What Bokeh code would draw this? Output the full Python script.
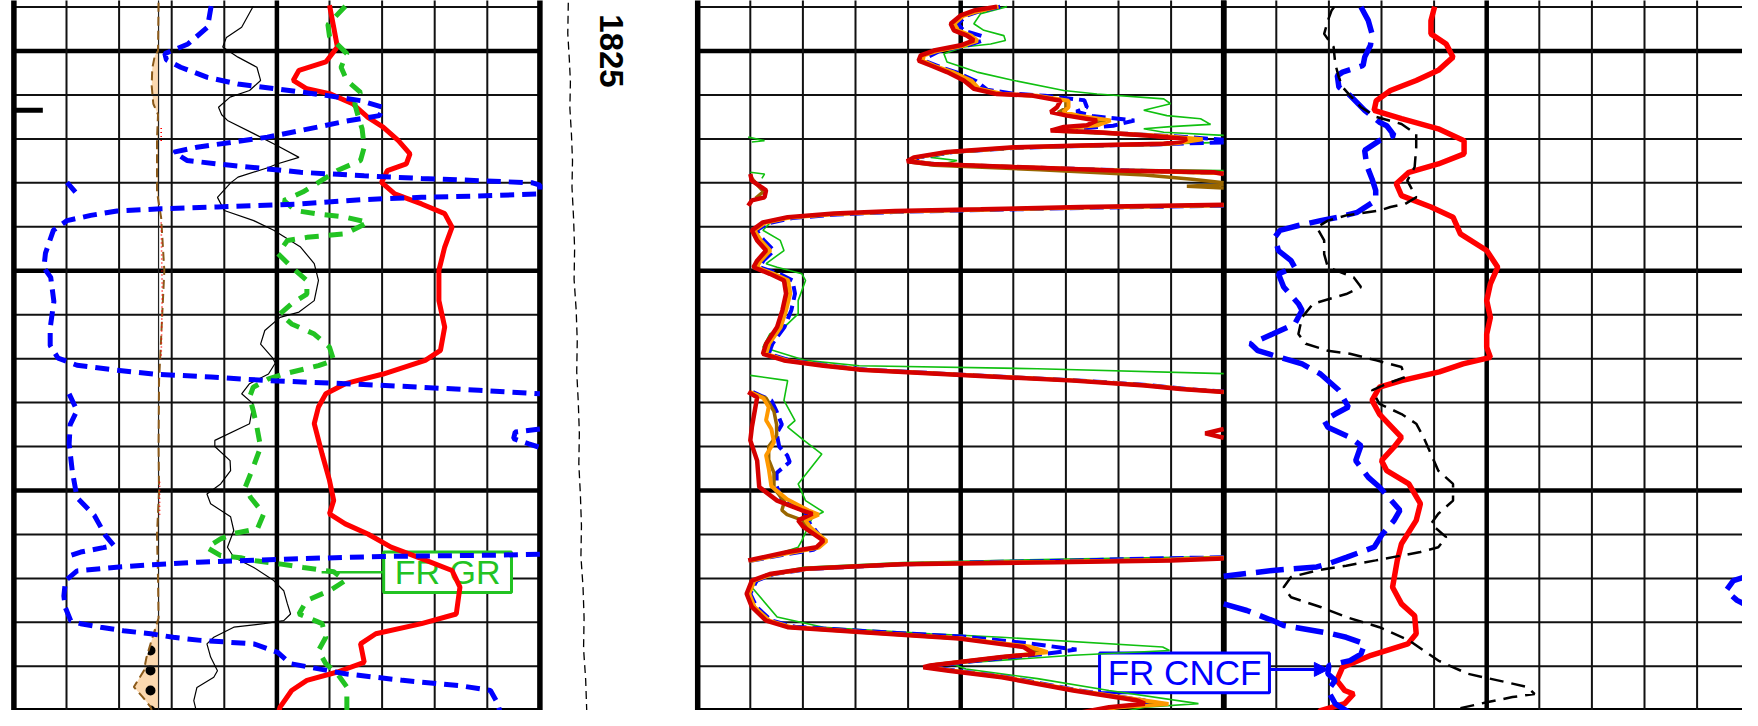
import numpy as np
from bokeh.plotting import figure
from bokeh.models import Range1d, Arrow, NormalHead
from bokeh.embed import file_html
from bokeh.resources import INLINE
from bokeh.core.properties import value

# ---------------- layout constants ----------------
PX_PER_DIV = 52.6      # one grid division (track units)
X0_PX = 13.4           # left edge of track 1 in pixels
PX_PER_M = 43.95       # one metre of depth
Y1825_PX = 50.5        # y of the 1825 depth line
W, H = 1742, 710

TRACK1, TRACK2, TRACK3 = 0.0, 13.0, 23.0   # left edge of each 10-division track
DEPTH_LABEL_X = 11.36

# ---------------- data (depth, track value in divisions) ----------------
depth_labels = [1825]

# Track 1
t1_red = [(1823.96,6.00),(1824.46,6.08),(1824.91,6.15),(1825.25,5.93),(1825.44,5.42),(1825.67,5.31),(1825.86,5.57),
          (1825.97,6.00),(1826.20,6.44),(1826.51,6.73),(1826.73,7.02),(1827.04,7.31),(1827.34,7.53),(1827.57,7.46),
          (1827.72,7.10),(1827.99,6.99),(1828.25,7.24),(1828.48,7.75),(1828.70,8.19),(1829.01,8.33),(1829.46,8.19),
          (1829.99,8.08),(1830.68,8.08),(1831.28,8.19),(1831.81,8.11),(1832.04,7.82),(1832.35,7.02),(1832.57,6.30),
          (1832.80,5.93),(1833.10,5.79),(1833.48,5.71),(1834.17,5.86),(1834.77,6.00),(1835.23,6.08),(1835.53,6.00),
          (1835.76,6.30),(1835.99,6.73),(1836.29,7.17),(1836.55,7.75),(1836.82,8.33),(1837.20,8.48),(1837.81,8.41),
          (1838.03,7.75),(1838.26,6.88),(1838.49,6.59),(1838.91,6.66),(1839.13,6.15),(1839.32,5.57),(1839.55,5.28),
          (1839.93,5.06),(1840.23,4.99),(1840.38,5.13)]

t1_gr = [(1823.98,6.30),(1824.40,5.97),(1824.67,6.00),(1825.06,6.33),(1825.37,6.22),(1825.67,6.33),(1825.94,6.59),
         (1826.20,6.48),(1826.51,6.55),(1826.77,6.62),(1827.19,6.66),(1827.49,6.59),(1827.72,6.15),(1827.99,5.79),
         (1828.21,5.49),(1828.40,5.13),(1828.63,5.35),(1828.71,5.79),(1828.78,6.30),(1828.90,6.73),(1829.16,6.30),
         (1829.24,5.57),(1829.31,5.20),(1829.61,5.02),(1829.92,5.28),(1830.22,5.57),(1830.53,5.57),(1830.75,5.28),
         (1830.98,5.06),(1831.21,5.28),(1831.44,5.71),(1831.74,6.00),(1832.04,6.08),(1832.16,5.79),(1832.35,5.13),
         (1832.46,4.84),(1832.65,4.55),(1832.88,4.48),(1833.18,4.55),(1833.56,4.62),(1834.01,4.69),(1834.47,4.55),
         (1834.92,4.40),(1835.16,4.50),(1835.53,4.75),(1835.87,4.63),(1835.98,4.18),(1836.10,3.93),(1836.30,3.67),
         (1836.48,3.93),(1836.53,4.31),(1836.60,4.60),(1836.67,5.05),(1836.75,5.50),(1836.85,6.08),(1837.05,6.30),
         (1837.28,6.00),(1837.50,5.57),(1837.81,5.42),(1838.03,5.86),(1838.34,5.93),(1838.64,5.79),(1838.94,5.93),
         (1839.17,6.15),(1839.47,6.33),(1839.85,6.33),(1840.23,6.33)]

t1_blue = [(1823.98,3.75),(1824.46,3.68),(1824.84,3.31),(1825.06,2.87),(1825.20,2.90),(1825.37,3.17),(1825.60,3.68),
           (1825.75,4.26),(1825.86,4.99),(1826.01,5.93),(1826.13,6.59),(1826.28,7.02),(1826.47,6.95),(1826.60,6.30),
           (1826.81,5.45),(1826.96,4.82),(1827.07,4.18),(1827.19,3.48),(1827.30,3.04),(1827.49,3.29),(1827.57,3.87),
           (1827.72,5.13),(1827.76,5.45),(1827.84,6.66),(1827.90,7.75),(1827.95,8.84),(1828.00,9.86),(1828.05,10.0),
           (1828.25,10.0),(1828.30,8.84),(1828.33,7.75),(1828.38,6.66),(1828.48,5.45),(1828.55,3.87),(1828.59,2.79),
           (1828.64,1.96),(1828.74,1.46),(1828.86,1.01),(1829.08,0.75),(1829.60,0.60),(1829.93,0.57),(1830.15,0.70),
           (1830.70,0.76),(1831.30,0.69),(1831.70,0.69),(1831.99,0.84),(1832.15,1.20),(1832.26,1.93),(1832.35,2.66),
           (1832.42,3.75),(1832.50,4.84),(1832.57,6.30),(1832.65,7.75),(1832.72,8.84),(1832.80,10.0), None,
           (1827.99,1.01),(1828.21,1.17), None,
           (1832.80,1.05),(1833.18,1.20),(1833.50,1.07),(1833.94,1.05),(1834.56,1.11),(1835.16,1.20),(1835.57,1.53),
           (1836.02,1.74),(1836.25,1.90),(1836.30,1.70),(1836.40,1.27),(1836.50,1.02), None,
           (1833.60,10.0),(1833.67,9.53),(1833.82,9.50),(1833.94,9.79),(1834.02,10.0), None,
           (1836.45,10.0),(1836.47,9.20),(1836.50,7.00),(1836.55,5.45),(1836.63,3.50),(1836.69,2.60),(1836.74,2.00),
           (1836.83,1.20),(1837.05,0.98),(1837.40,0.95),(1837.67,0.98),(1837.96,1.08),(1838.03,1.27),(1838.11,1.65),
           (1838.19,2.08),(1838.26,2.60),(1838.34,3.03),(1838.41,3.55),(1838.45,4.06),(1838.49,4.56),(1838.68,5.01),
           (1838.94,5.26),(1839.17,6.30),(1839.32,7.39),(1839.44,8.48),(1839.55,9.06),(1839.85,9.20),(1840.23,9.28)]

t1_black = [(1823.98,4.55),(1824.46,4.33),(1824.69,4.04),(1824.91,3.97),(1825.14,4.26),(1825.37,4.62),(1825.67,4.69),
            (1825.90,4.48),(1826.05,4.11),(1826.28,3.89),(1826.45,3.95),(1826.58,4.06),(1826.88,4.56),(1827.15,5.00),
            (1827.42,5.42),(1827.57,5.00),(1827.65,4.84),(1827.87,4.26),(1828.00,4.12),(1828.33,3.87),(1828.63,4.00),
            (1828.86,4.56),(1829.08,4.94),(1829.46,5.45),(1829.84,5.71),(1830.22,5.79),(1830.68,5.71),(1830.94,5.42),
            (1831.06,5.06),(1831.36,4.77),(1831.67,4.69),(1831.97,4.91),(1832.10,4.97),(1832.35,4.84),(1832.57,4.48),
            (1832.80,4.33),(1833.03,4.55),(1833.48,4.48),(1833.86,3.82),(1834.00,3.82),(1834.32,4.11),(1834.55,4.12),
            (1834.85,3.93),(1835.08,3.67),(1835.30,3.74),(1835.60,4.12),(1835.91,4.18),(1836.29,4.06),(1836.52,4.18),
            (1836.75,4.56),(1837.05,4.94),(1837.28,5.13),(1837.58,5.20),(1837.81,5.26),(1837.96,5.13),(1838.03,4.75),
            (1838.11,4.18),(1838.34,3.80),(1838.49,3.67),(1838.79,3.74),(1839.10,3.87),(1839.25,3.80),(1839.48,3.48),
            (1839.78,3.42),(1840.08,3.48),(1840.31,3.60)]

sp_baseline = 2.75
t1_sp = [(1823.9,2.75),(1825.00,2.74),(1825.10,2.68),(1825.40,2.63),(1825.80,2.62),(1826.20,2.65),(1826.45,2.74),
         (1827.00,2.72),(1828.20,2.72),(1828.80,2.80),(1830.00,2.86),(1831.50,2.80),(1832.50,2.76),(1834.00,2.75),
         (1835.00,2.76),(1836.00,2.72),(1837.00,2.74),(1837.90,2.75),(1838.40,2.62),(1838.80,2.52),(1839.10,2.47),
         (1839.47,2.28),(1839.70,2.45),(1839.93,2.60),(1840.25,2.69),(1840.40,2.72)]
sp_dotted_from = 1837.0   # the lower SP deflection carries the dotted (sand) pattern
t1_sp_red = [(1826.75,2.80),(1827.05,2.80), None, (1828.90,2.80),(1830.50,2.82),(1832.00,2.80), None,
             (1834.80,2.77),(1835.60,2.77)]
depth_marker = [(1826.35,0.0),(1826.35,0.55)]

# Depth column curve
t_depthcol = [(1823.9,10.54),(1824.6,10.53),(1825.2,10.56),(1825.7,10.58),(1826.3,10.57),(1826.9,10.60),(1827.5,10.62),
              (1828.1,10.61),(1828.8,10.64),(1829.5,10.66),(1830.2,10.65),(1830.9,10.69),(1831.6,10.71),(1832.3,10.70),
              (1833.0,10.73),(1833.7,10.75),(1834.4,10.74),(1835.1,10.77),(1835.8,10.79),(1836.5,10.78),(1837.2,10.82),
              (1837.9,10.84),(1838.6,10.83),(1839.3,10.87),(1840.0,10.89),(1840.4,10.90)]

# Track 2 (resistivity-type curves)
t2_red = [(1823.99,5.69),(1824.08,5.25),(1824.19,5.00),(1824.38,4.81),(1824.53,4.87),(1824.65,5.12),(1824.76,5.25),
          (1824.87,5.00),(1824.99,4.49),(1825.10,4.24),(1825.22,4.20),(1825.33,4.43),(1825.48,4.74),(1825.67,5.06),
          (1825.86,5.25),(1825.98,5.69),(1826.01,6.33),(1826.13,6.90),(1826.28,6.83),(1826.39,6.71),(1826.47,7.02),
          (1826.58,7.59),(1826.69,7.40),(1826.73,6.96),(1826.81,6.71),(1826.85,7.59),(1826.92,8.55),(1827.00,9.30),
          (1827.06,9.20),(1827.11,8.86),(1827.15,7.28),(1827.19,6.01),(1827.30,4.74),(1827.42,4.11),(1827.51,3.98),
          (1827.57,4.43),(1827.64,6.01),(1827.72,7.91),(1827.76,9.81),(1827.80,10.0), None,
          (1827.80,1.00),(1827.95,1.03),(1828.17,1.30),(1828.33,1.27),(1828.40,1.03),(1828.52,0.96), None,
          (1828.50,10.0),(1828.55,7.28),(1828.60,5.38),(1828.64,3.75),(1828.70,2.59),(1828.78,1.71),(1828.90,1.24),
          (1829.08,1.03),(1829.31,1.13),(1829.54,1.30),(1829.77,1.13),(1829.92,1.06),(1830.07,1.37),(1830.22,1.64),
          (1830.52,1.68),(1830.90,1.61),(1831.28,1.51),(1831.66,1.30),(1831.89,1.24),(1832.04,1.64),(1832.16,2.39),
          (1832.25,3.07),(1832.38,5.10),(1832.50,7.14),(1832.61,8.50),(1832.69,9.18),(1832.76,10.0), None,
          (1832.76,0.96),(1832.88,1.13),(1833.56,1.03),(1833.86,1.00),(1834.32,1.13),(1834.92,1.17),(1835.23,1.51),
          (1835.45,1.98),(1835.53,2.18),(1835.68,1.91),(1835.83,2.01),(1836.14,2.39),(1836.29,2.26),(1836.40,1.71),
          (1836.59,0.96), None,
          (1833.60,10.0),(1833.70,9.65),(1833.80,10.0), None,
          (1836.55,10.0),(1836.59,9.00),(1836.63,6.80),(1836.68,3.88),(1836.78,2.05),(1836.90,1.37),(1837.05,1.03),
          (1837.35,0.93),(1837.65,1.03),(1837.96,1.30),(1838.11,1.71),(1838.22,3.07),(1838.37,4.97),(1838.56,6.19),
          (1838.72,6.40),(1838.79,5.78),(1838.98,4.42),(1839.02,4.29),(1839.10,4.77),(1839.25,5.78),(1839.55,7.14),
          (1839.78,8.36),(1839.85,8.50),(1839.93,7.82),(1840.16,6.80),(1840.31,6.33),(1840.40,6.10)]

t2_green = [(1823.99,5.88),(1824.15,5.38),(1824.38,5.25),(1824.53,5.44),(1824.65,5.82),(1824.76,5.85),(1824.84,5.57),
            (1824.91,5.06),(1825.06,4.68),(1825.25,4.74),(1825.48,5.31),(1825.67,6.01),(1825.90,6.96),(1825.98,7.59),
            (1826.09,8.86),(1826.20,8.99),(1826.35,8.48),(1826.47,8.92),(1826.54,9.56),(1826.67,9.75),(1826.72,8.99),
            (1826.77,8.48),(1826.85,8.86),(1826.92,10.0), None,
            (1827.08,10.0),(1827.12,8.60),(1827.16,7.30),(1827.21,6.05),(1827.31,4.85),(1827.42,4.43),(1827.49,4.93),
            (1827.56,4.70),(1827.63,6.10),(1827.69,8.00),(1827.72,10.0), None,
            (1826.96,0.96),(1827.04,1.27),(1827.07,1.03), None,
            (1827.76,1.00),(1827.80,1.27),(1827.90,1.22), None,
            (1828.48,10.0),(1828.53,7.50),(1828.58,5.50),(1828.63,3.90),(1828.69,2.70),(1828.77,1.80),(1828.88,1.40),
            (1829.08,1.24),(1829.31,1.57),(1829.54,1.64),(1829.84,1.30),(1829.92,1.51),(1830.07,1.98),(1830.22,2.05),
            (1830.68,1.91),(1830.98,1.91),(1831.21,1.71),(1831.44,1.37),(1831.74,1.24),(1832.04,2.05),(1832.16,3.07),
            (1832.23,6.46),(1832.34,10.0), None,
            (1832.38,1.00),(1832.50,1.71),(1832.95,1.64),(1833.41,1.85),(1833.56,1.71),(1833.86,2.02),(1834.17,2.36),
            (1834.85,1.91),(1835.23,2.05),(1835.49,2.39),(1835.61,2.18),(1836.14,1.98),(1836.29,1.91),(1836.45,1.50),
            (1836.58,1.00), None,
            (1836.50,10.0),(1836.56,7.00),(1836.64,3.90),(1836.75,2.00),(1836.90,1.30),(1837.20,1.03),(1837.88,1.51),
            (1838.11,2.39),(1838.26,4.42),(1838.34,5.78),(1838.56,8.84),(1838.64,8.97),(1838.75,7.14),(1838.94,4.83),
            (1839.06,5.10),(1839.28,6.46),(1839.55,7.82),(1839.85,9.52),(1839.93,8.50),(1840.19,7.48),(1840.35,7.14),
            (1840.40,7.00)]

t2_blue = [(1823.99,5.75),(1824.10,5.35),(1824.20,5.10),(1824.38,4.95),(1824.53,5.05),(1824.66,5.40),(1824.77,5.40),
           (1824.88,5.10),(1825.00,4.60),(1825.12,4.40),(1825.24,4.35),(1825.36,4.60),(1825.50,4.95),(1825.69,5.30),
           (1825.88,5.50),(1825.97,6.00),(1826.02,6.60),(1826.12,7.35),(1826.28,7.40),(1826.38,7.20),(1826.48,7.50),
           (1826.58,8.30),(1826.70,7.90),(1826.76,7.30),(1826.83,7.20),(1826.88,8.10),(1826.95,9.20),(1827.02,10.0), None,
           (1827.08,10.0),(1827.12,8.80),(1827.16,7.30),(1827.20,6.10),(1827.30,4.85),(1827.42,4.20),(1827.52,4.10),
           (1827.58,4.60),(1827.65,6.30),(1827.72,8.20),(1827.78,10.0), None,
           (1828.52,10.0),(1828.57,7.30),(1828.62,5.40),(1828.66,3.80),(1828.72,2.65),(1828.80,1.80),(1828.92,1.33),
           (1829.08,1.12),(1829.30,1.25),(1829.54,1.45),(1829.77,1.25),(1829.92,1.18),(1830.07,1.55),(1830.22,1.80),
           (1830.52,1.85),(1830.90,1.78),(1831.28,1.65),(1831.66,1.42),(1831.89,1.35),(1832.04,1.75),(1832.16,2.50),
           (1832.25,3.20),(1832.38,5.25),(1832.50,7.30),(1832.61,8.65),(1832.69,9.30),(1832.75,10.0), None,
           (1832.76,1.05),(1832.95,1.40),(1833.20,1.50),(1833.50,1.60),(1833.70,1.50),(1834.00,1.55),(1834.20,1.70),
           (1834.35,1.75),(1834.60,1.50),(1834.90,1.50),(1835.20,1.60),(1835.50,2.05),(1835.70,2.10),(1836.00,2.30),
           (1836.20,2.40),(1836.35,2.20),(1836.45,1.70),(1836.60,1.00), None,
           (1836.52,10.0),(1836.55,8.50),(1836.60,7.00),(1836.63,5.50),(1836.68,3.90),(1836.79,2.10),(1836.90,1.45),
           (1837.05,1.12),(1837.35,1.00),(1837.65,1.12),(1837.96,1.40),(1838.10,1.85),(1838.20,3.20),(1838.33,5.10),
           (1838.48,6.30),(1838.62,7.20),(1838.72,6.60),(1838.80,5.90),(1838.97,4.60),(1839.02,4.45),(1839.10,4.90),
           (1839.25,5.90),(1839.55,7.25),(1839.78,8.50),(1839.85,8.70),(1839.93,7.90),(1840.16,6.90),(1840.31,6.40),
           (1840.40,6.20)]

t2_orange = [(1823.99,5.72),(1824.10,5.30),(1824.20,5.05),(1824.38,4.88),(1824.53,4.95),(1824.65,5.20),(1824.77,5.32),
             (1824.88,5.05),(1825.00,4.55),(1825.10,4.30),(1825.22,4.28),(1825.34,4.50),(1825.48,4.85),(1825.67,5.20),
             (1825.86,5.35),(1825.98,5.80),(1826.02,6.45),(1826.13,7.05),(1826.28,7.05),(1826.39,6.95),(1826.47,7.25),
             (1826.58,7.85),(1826.69,7.60),(1826.74,7.10),(1826.81,6.90),(1826.86,7.80),(1826.93,8.80),(1827.01,9.60),
             (1827.10,9.10),(1827.15,7.40),(1827.19,6.10),(1827.30,4.80),(1827.42,4.15),(1827.51,4.05),(1827.57,4.50),
             (1827.64,6.10),(1827.72,8.00),(1827.78,10.0), None,
             (1828.51,10.0),(1828.56,7.30),(1828.61,5.40),(1828.65,3.78),(1828.71,2.62),(1828.79,1.75),(1828.91,1.28),
             (1829.08,1.08),(1829.31,1.20),(1829.54,1.38),(1829.77,1.20),(1829.92,1.12),(1830.07,1.45),(1830.22,1.72),
             (1830.52,1.76),(1830.90,1.68),(1831.28,1.58),(1831.66,1.36),(1831.89,1.30),(1832.04,1.70),(1832.16,2.45),
             (1832.25,3.13),(1832.38,5.18),(1832.50,7.22),(1832.61,8.58),(1832.69,9.24),(1832.76,10.0), None,
             (1832.76,1.00),(1832.90,1.25),(1833.10,1.35),(1833.40,1.30),(1833.60,1.40),(1833.90,1.45),(1834.20,1.30),
             (1834.50,1.35),(1834.90,1.40),(1835.20,1.70),(1835.45,2.10),(1835.55,2.30),(1835.68,2.05),(1835.85,2.15),
             (1836.15,2.45),(1836.30,2.30),(1836.42,1.75),(1836.60,1.00), None,
             (1836.53,10.0),(1836.58,8.80),(1836.62,6.90),(1836.67,3.95),(1836.78,2.10),(1836.90,1.42),(1837.05,1.08),
             (1837.35,0.98),(1837.65,1.08),(1837.96,1.36),(1838.11,1.78),(1838.22,3.13),(1838.37,5.05),(1838.55,6.30),
             (1838.68,6.65),(1838.76,6.00),(1838.97,4.50),(1839.02,4.36),(1839.10,4.85),(1839.25,5.85),(1839.55,7.20),
             (1839.78,8.50),(1839.86,8.95),(1839.93,8.00),(1840.16,6.88),(1840.31,6.40),(1840.40,6.20)]

t2_brown = [(1823.99,5.70),(1824.20,5.02),(1824.38,4.85),(1824.53,4.92),(1824.65,5.18),(1824.76,5.30),(1824.87,5.03),
            (1825.00,4.52),(1825.10,4.27),(1825.22,4.24),(1825.33,4.47),(1825.48,4.80),(1825.67,5.15),(1825.86,5.32),
            (1825.98,5.75),(1826.02,6.40),(1826.13,7.00),(1826.30,7.00),(1826.40,6.85),(1826.48,7.15),(1826.60,7.75),
            (1826.70,7.50),(1826.76,7.00),(1826.82,6.80),(1826.87,7.70),(1826.94,8.70),(1827.02,9.45),(1827.12,8.95),
            (1827.16,7.35),(1827.20,6.05),(1827.31,4.78),(1827.43,4.13),(1827.52,4.00),(1827.60,4.50),(1827.70,6.50),
            (1827.82,8.50),(1827.92,9.40),(1828.00,10.0), None,
            (1828.04,10.0),(1828.08,9.30),(1828.12,10.0), None,
            (1827.85,1.00),(1828.00,1.10),(1828.20,1.25),(1828.35,1.10), None,
            (1828.51,10.0),(1828.56,7.29),(1828.61,5.39),(1828.65,3.77),(1828.71,2.61),(1828.79,1.73),(1828.91,1.26),
            (1829.08,1.06),(1829.31,1.17),(1829.54,1.34),(1829.77,1.17),(1829.92,1.10),(1830.07,1.41),(1830.22,1.68),
            (1830.52,1.72),(1830.90,1.65),(1831.28,1.55),(1831.66,1.33),(1831.89,1.27),(1832.04,1.67),(1832.16,2.42),
            (1832.25,3.10),(1832.38,5.14),(1832.50,7.18),(1832.61,8.54),(1832.69,9.21),(1832.76,10.0), None,
            (1832.76,1.00),(1832.90,1.30),(1833.20,1.45),(1833.50,1.50),(1833.75,1.50),(1834.00,1.35),(1834.30,1.35),
            (1834.60,1.45),(1834.95,1.45),(1835.25,1.65),(1835.45,1.60),(1835.55,1.70),(1835.68,2.00),(1835.85,2.10),
            (1836.15,2.42),(1836.30,2.28),(1836.42,1.72),(1836.60,0.98), None,
            (1836.54,10.0),(1836.58,8.70),(1836.62,6.85),(1836.67,3.92),(1836.78,2.08),(1836.90,1.40),(1837.05,1.06),
            (1837.35,0.96),(1837.65,1.06),(1837.96,1.33),(1838.11,1.75),(1838.22,3.10),(1838.37,5.00),(1838.55,6.25),
            (1838.70,6.50),(1838.77,5.90),(1838.97,4.46),(1839.02,4.33),(1839.10,4.80),(1839.25,5.82),(1839.55,7.17),
            (1839.78,8.45),(1839.86,8.75),(1839.93,7.90),(1840.16,6.84),(1840.31,6.37),(1840.40,6.15)]

# Track 3
t3_red = [(1823.99,4.01),(1824.31,3.94),(1824.61,3.94),(1824.84,4.23),(1825.14,4.36),(1825.44,4.08),(1825.67,3.66),
          (1825.90,3.17),(1826.13,2.90),(1826.35,2.86),(1826.54,3.38),(1826.77,4.08),(1827.04,4.57),(1827.34,4.57),
          (1827.57,4.08),(1827.76,3.52),(1828.02,3.28),(1828.29,3.38),(1828.55,3.94),(1828.78,4.36),(1829.16,4.50),
          (1829.54,5.00),(1829.92,5.21),(1830.30,5.07),(1830.68,5.00),(1831.06,5.07),(1831.44,5.00),(1831.74,5.00),
          (1831.97,5.07),(1832.12,4.55),(1832.30,4.10),(1832.50,3.38),(1832.65,2.96),(1832.95,2.82),(1833.26,2.96),
          (1833.79,3.38),(1834.01,3.24),(1834.32,3.00),(1834.55,3.10),(1834.85,3.52),(1835.30,3.74),(1835.68,3.66),
          (1836.21,3.38),(1836.59,3.30),(1837.20,3.21),(1837.58,3.38),(1837.85,3.63),(1838.26,3.66),(1838.49,3.50),
          (1838.75,2.80),(1839.02,2.26),(1839.32,2.15),(1839.55,2.30),(1839.63,2.47),(1839.85,2.30),(1840.01,1.84),
          (1840.20,1.70),(1840.31,1.98),(1840.40,2.10)]

t3_cncf = [(1824.00,2.61),(1824.31,2.75),(1824.61,2.82),(1824.87,2.79),(1825.14,2.68),(1825.33,2.65),(1825.48,2.26),
           (1825.56,2.16),(1825.82,2.19),(1826.01,2.40),(1826.35,2.68),(1826.62,2.96),(1826.70,3.10),(1826.92,3.24),
           (1827.04,2.96),(1827.26,2.68),(1827.61,2.72),(1827.91,2.82),(1828.17,2.89),(1828.40,2.89),(1828.67,2.54),
           (1828.78,2.19),(1828.86,1.84),(1828.97,1.42),(1829.08,1.07),(1829.24,0.97),(1829.54,1.04),(1829.77,1.28),
           (1829.92,1.35),(1830.07,1.04),(1830.37,1.14),(1830.75,1.42),(1830.90,1.49),(1831.21,1.35),(1831.44,0.93),
           (1831.66,0.51),(1831.82,0.65),(1831.97,1.07),(1832.12,1.49),(1832.35,1.84),(1832.72,2.19),(1833.10,2.37),
           (1833.26,2.12),(1833.41,1.91),(1833.56,1.98),(1833.79,2.40),(1833.98,2.61),(1834.32,2.51),(1834.70,2.75),
           (1834.92,2.96),(1835.11,3.10),(1835.45,3.35),(1835.68,3.24),(1836.02,3.00),(1836.29,2.86),(1836.52,2.33),
           (1836.67,1.98),(1836.74,1.77),(1836.82,0.93),(1836.95,0.00), None,
           (1836.93,10.0),(1837.05,9.69),(1837.28,9.55),(1837.50,9.76),(1837.65,10.0), None,
           (1837.58,0.00),(1837.73,0.44),(1837.96,0.93),(1838.07,1.14),(1838.26,2.05),(1838.34,2.33),(1838.49,2.68),
           (1838.72,2.61),(1838.87,2.40),(1838.98,2.00),(1839.17,1.98),(1839.32,2.12),(1839.55,1.98),(1839.85,2.12),
           (1840.01,2.33),(1840.23,2.68),(1840.40,2.76)]

t3_black = [(1824.00,2.10),(1824.08,2.05),(1824.31,1.98),(1824.61,1.91),(1824.91,2.09),(1825.29,2.12),(1825.60,2.19),
            (1825.82,2.26),(1826.01,2.40),(1826.28,2.61),(1826.50,2.90),(1826.66,3.38),(1826.89,3.66),(1827.19,3.66),
            (1827.64,3.63),(1827.95,3.49),(1828.33,3.66),(1828.48,3.45),(1828.55,3.17),(1828.63,2.96),(1828.74,2.33),
            (1828.86,1.98),(1829.01,1.77),(1829.31,1.91),(1829.62,1.91),(1829.92,1.98),(1830.15,2.47),(1830.37,2.61),
            (1830.53,2.33),(1830.75,1.70),(1831.06,1.49),(1831.44,1.42),(1831.66,1.56),(1831.82,1.98),(1831.89,2.40),
            (1832.04,2.90),(1832.19,3.38),(1832.42,3.45),(1832.57,3.10),(1832.72,2.82),(1833.03,2.96),(1833.26,3.38),
            (1833.48,3.66),(1833.79,3.80),(1834.17,3.94),(1834.55,4.08),(1834.85,4.36),(1835.23,4.36),(1835.53,4.08),
            (1835.76,3.94),(1836.06,4.23),(1836.29,4.08),(1836.40,3.74),(1836.48,3.38),(1836.59,2.89),(1836.71,2.33),
            (1836.82,1.77),(1836.97,1.28),(1837.20,1.14),(1837.43,1.28),(1837.65,1.84),(1837.88,2.33),(1838.11,2.96),
            (1838.41,3.52),(1838.87,4.08),(1839.17,4.64),(1839.32,5.21),(1839.47,5.77),(1839.63,5.91),(1839.70,5.49),
            (1839.82,5.00),(1839.97,4.43),(1840.08,3.94),(1840.23,3.52),(1840.40,3.20)]

# crossover fill at the bottom of track 3: depth, left edge, right edge
t3_fill_depth = [1840.05, 1840.15, 1840.25, 1840.40]
t3_fill_left = [2.00, 1.72, 1.75, 2.00]
t3_fill_right = [2.30, 2.55, 2.70, 2.76]

# label boxes: (text, left, right, top depth, bottom depth, font size)
label_gr = ("FR GR", 7.03, 9.46, 1836.40, 1837.32, "34px")
label_cncf = ("FR CNCF", 20.64, 23.87, 1838.70, 1839.60, "35px")
gr_leader = [(1836.86, 5.85), (1836.86, 7.03)]
cncf_arrow = [(1839.07, 23.87), (1839.07, 24.99)]

# ---------------- colours ----------------
RED = "#FF0000"
DARK_RED = "#D40000"
BLUE = "#0000FF"
GREEN = "#22C322"
GREEN_THIN = "#10C010"
ORANGE = "#FF9900"
BROWN = "#996600"
PEACH = "#FCD9B0"


def xy(pairs, offset):
    xs, ys = [], []
    for pr in pairs:
        if pr is None:
            xs.append(np.nan)
            ys.append(np.nan)
        else:
            ys.append(pr[0])
            xs.append(offset + pr[1])
    return np.array(xs, dtype=float), np.array(ys, dtype=float)


x_start = (0 - X0_PX) / PX_PER_DIV
x_end = (W - X0_PX) / PX_PER_DIV
d_top = 1825 + (0 - Y1825_PX) / PX_PER_M
d_bot = 1825 + (H - Y1825_PX) / PX_PER_M

p = figure(width=W, height=H, x_range=Range1d(x_start, x_end), y_range=Range1d(d_bot, d_top),
           output_backend="svg", toolbar_location=None, min_border=0,
           x_axis_location=None, y_axis_location=None)
p.grid.visible = False
p.outline_line_color = None
p.background_fill_color = "white"
p.border_fill_color = "white"

# ---- SP fills (under grid) ----
sp_x, sp_d = xy(t1_sp, TRACK1)
sp_left = np.minimum(sp_x, TRACK1 + sp_baseline)
base = np.full(len(sp_x), TRACK1 + sp_baseline)
upper = sp_d < sp_dotted_from
p.harea(x1=sp_left[upper], x2=base[upper], y=sp_d[upper], fill_color=PEACH)
lower = ~upper
p.harea(x1=sp_left[lower], x2=base[lower], y=sp_d[lower],
        fill_color=PEACH, hatch_pattern="dot", hatch_color="black", hatch_scale=20, hatch_weight=1.8)

# ---- track 3 crossover fill ----
p.harea(x1=TRACK3 + np.array(t3_fill_left), x2=TRACK3 + np.array(t3_fill_right), y=t3_fill_depth,
        fill_color="#FFFF00", hatch_pattern="+", hatch_color="#FF6600", hatch_scale=7, hatch_weight=1)

# ---- grid ----
d_lo, d_hi = 1823.0, 1842.0
for t in (TRACK1, TRACK2, TRACK3):
    hd = list(range(1824, 1842))
    thin = [d for d in hd if d % 5]
    thick = [d for d in hd if d % 5 == 0]
    p.segment(x0=[t] * len(thin), x1=[t + 10] * len(thin), y0=thin, y1=thin, line_color="#111111", line_width=2)
    p.segment(x0=[t] * len(thick), x1=[t + 10] * len(thick), y0=thick, y1=thick, line_color="black", line_width=4.5)
    vthin = [t + k for k in range(1, 10) if k != 5]
    p.segment(x0=vthin, x1=vthin, y0=[d_lo] * len(vthin), y1=[d_hi] * len(vthin), line_color="#111111", line_width=2)
    p.segment(x0=[t + 5], x1=[t + 5], y0=[d_lo], y1=[d_hi], line_color="black", line_width=4.5)
    p.segment(x0=[t, t + 10], x1=[t, t + 10], y0=[d_lo, d_lo], y1=[d_hi, d_hi], line_color="black", line_width=5.5)

# SP baseline
p.line([TRACK1 + sp_baseline] * 2, [d_lo, d_hi], line_color="#222222", line_width=1.2)

# depth marker tick
mx, md = xy(depth_marker, TRACK1)
p.line(mx, md, line_color="black", line_width=5)

# ---- label boxes ----
for (txt, l, r, tp, bt, fs), col in ((label_gr, GREEN), (label_cncf, BLUE)):
    p.quad(left=[l], right=[r], top=[tp], bottom=[bt], fill_color="white", line_color=col, line_width=3)
    p.text(x=[(l + r) / 2], y=[(tp + bt) / 2], text=[txt], text_align="center", text_baseline="middle",
           text_font=value("Liberation Sans"), text_font_size=fs, text_color=col)
lx, ld = xy(gr_leader, 0.0)
p.line(lx, ld, line_color=GREEN, line_width=2.5)
ax, ad = xy(cncf_arrow, 0.0)
p.add_layout(Arrow(end=NormalHead(size=14, fill_color=BLUE, line_color=BLUE),
                   x_start=ax[0], y_start=ad[0], x_end=ax[1], y_end=ad[1],
                   line_color=BLUE, line_width=3))

# ---- depth column ----
x, d = xy(t_depthcol, 0.0)
p.line(x, d, line_color="black", line_width=1.3, line_dash="8 5")
p.text(x=[DEPTH_LABEL_X] * len(depth_labels), y=depth_labels, text=[str(v) for v in depth_labels],
       angle=-np.pi / 2, text_align="center", text_baseline="middle",
       text_font=value("Liberation Sans"), text_font_style="bold", text_font_size="33px", text_color="black")

# ---- track 1 curves ----
x, d = xy(t1_black, TRACK1)
p.line(x, d, line_color="black", line_width=1.2)
p.line(sp_x, sp_d, line_color="#8B5A1A", line_width=2, line_dash="9 5")
x, d = xy(t1_sp_red, TRACK1)
p.line(x, d, line_color=RED, line_width=1.6, line_dash="1 3")
x, d = xy(t1_red, TRACK1)
p.line(x, d, line_color=RED, line_width=5)
x, d = xy(t1_gr, TRACK1)
p.line(x, d, line_color=GREEN, line_width=5, line_dash="14 10")
x, d = xy(t1_blue, TRACK1)
p.line(x, d, line_color=BLUE, line_width=5, line_dash="14 8")

# ---- track 2 curves ----
x, d = xy(t2_green, TRACK2)
p.line(x, d, line_color=GREEN_THIN, line_width=1.6)
x, d = xy(t2_blue, TRACK2)
p.line(x, d, line_color=BLUE, line_width=4, line_dash="14 6")
x, d = xy(t2_brown, TRACK2)
p.line(x, d, line_color=BROWN, line_width=3.5)
x, d = xy(t2_orange, TRACK2)
p.line(x, d, line_color=ORANGE, line_width=4)
x, d = xy(t2_red, TRACK2)
p.line(x, d, line_color=DARK_RED, line_width=4.5)

# ---- track 3 curves ----
x, d = xy(t3_red, TRACK3)
p.line(x, d, line_color=RED, line_width=5.5)
x, d = xy(t3_cncf, TRACK3)
p.line(x, d, line_color=BLUE, line_width=5.5, line_dash="28 10")
x, d = xy(t3_black, TRACK3)
p.line(x, d, line_color="black", line_width=2.5, line_dash="14 8")

open("out.html", "w").write(file_html(p, INLINE))
